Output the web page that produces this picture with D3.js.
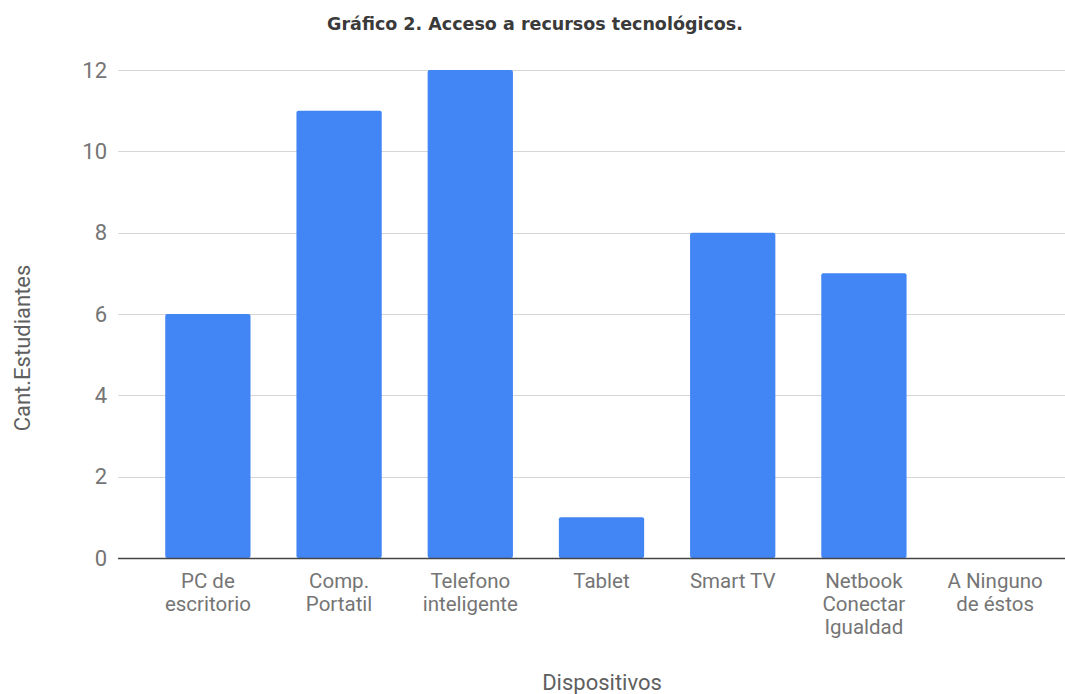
<!DOCTYPE html>
<html>
<head>
<meta charset="utf-8">
<script src="https://cdn.jsdelivr.net/npm/d3@7"></script>
<style>
  body { margin: 0; background: #fff; }
  svg { display: block; }
</style>
</head>
<body>
<div id="chart"></div>
<script>
// Datos del gráfico
const categories = [
    ['PC de', 'escritorio'],
    ['Comp.', 'Portatil'],
    ['Telefono', 'inteligente'],
    ['Tablet'],
    ['Smart TV'],
    ['Netbook', 'Conectar', 'Igualdad'],
    ['A Ninguno', 'de éstos']
];
const values = [6, 11, 12, 1, 8, 7, 0];
const yTicks = [0, 2, 4, 6, 8, 10, 12];

const width = 1065;
const height = 694;
const margin = { top: 70, right: 0, bottom: 136, left: 118 };

const svg = d3.select('#chart')
    .append('svg')
    .attr('width', width)
    .attr('height', height);

const keys = categories.map((c, i) => i);

const xScale = d3.scaleBand()
    .domain(keys)
    .range([margin.left, 1085])
    .paddingInner(0.35)
    .paddingOuter(0.36);

const yScale = d3.scaleLinear()
    .domain([0, 12])
    .range([height - margin.bottom, margin.top]);

// gridlines
svg.append('g')
    .selectAll('line')
    .data(yTicks.filter(d => d > 0))
    .join('line')
    .attr('x1', margin.left)
    .attr('x2', width)
    .attr('y1', d => Math.round(yScale(d)) + 0.5)
    .attr('y2', d => Math.round(yScale(d)) + 0.5)
    .attr('stroke', '#d6d6d6')
    .attr('stroke-width', 1);

// y tick labels
svg.append('g')
    .selectAll('text')
    .data(yTicks)
    .join('text')
    .attr('x', 107)
    .attr('y', d => yScale(d))
    .attr('dy', '0.35em')
    .attr('text-anchor', 'end')
    .style('font-family', 'Roboto, sans-serif')
    .style('font-size', '22px')
    .style('fill', '#757575')
    .text(d => d);

// bars
svg.append('g')
    .selectAll('rect')
    .data(values)
    .join('rect')
    .attr('x', (d, i) => xScale(i))
    .attr('y', d => yScale(d))
    .attr('width', xScale.bandwidth())
    .attr('height', d => yScale(0) - yScale(d))
    .attr('rx', 2)
    .attr('fill', '#4285f4');

// baseline
svg.append('line')
    .attr('x1', margin.left)
    .attr('x2', width)
    .attr('y1', yScale(0) + 0.5)
    .attr('y2', yScale(0) + 0.5)
    .attr('stroke', '#444')
    .attr('stroke-width', 1.5);

// x labels
const xLabels = svg.append('g')
    .selectAll('text')
    .data(categories)
    .join('text')
    .attr('x', (d, i) => xScale(i) + xScale.bandwidth() / 2)
    .attr('y', 588)
    .attr('text-anchor', 'middle')
    .style('font-family', 'Roboto, sans-serif')
    .style('font-size', '20.5px')
    .style('fill', '#757575');

xLabels.selectAll('tspan')
    .data(d => d)
    .join('tspan')
    .attr('x', function () { return d3.select(this.parentNode).attr('x'); })
    .attr('dy', (d, i) => i === 0 ? 0 : 23)
    .text(d => d);

// title
svg.append('text')
    .attr('x', 535)
    .attr('y', 30)
    .attr('text-anchor', 'middle')
    .style('font-family', '"DejaVu Sans", sans-serif')
    .style('font-weight', 'bold')
    .style('font-size', '17.5px')
    .style('fill', '#3a3a3a')
    .text('Gráfico 2. Acceso a recursos tecnológicos.');

// axis titles
svg.append('text')
    .attr('transform', 'rotate(-90)')
    .attr('x', -348)
    .attr('y', 30)
    .attr('text-anchor', 'middle')
    .style('font-family', 'Roboto, sans-serif')
    .style('font-size', '22px')
    .style('fill', '#5f5f5f')
    .text('Cant.Estudiantes');

svg.append('text')
    .attr('x', 602)
    .attr('y', 690)
    .attr('text-anchor', 'middle')
    .style('font-family', 'Roboto, sans-serif')
    .style('font-size', '22px')
    .style('fill', '#5f5f5f')
    .text('Dispositivos');
</script>
</body>
</html>
